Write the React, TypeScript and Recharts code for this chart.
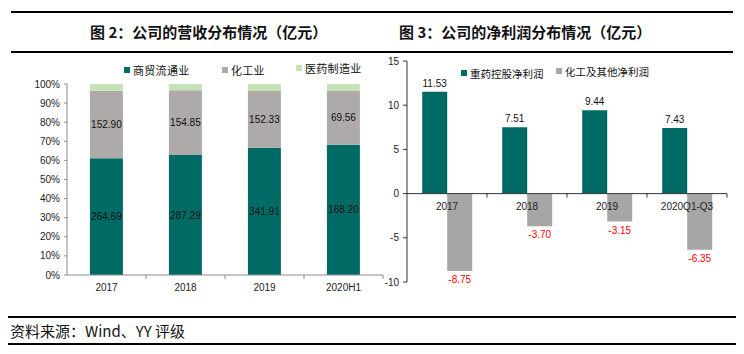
import React from "react";
import { BarChart, Bar, XAxis, YAxis, LabelList, ReferenceLine } from "recharts";

// 图2 营收分布（亿元）
const years = ["2017", "2018", "2019", "2020H1"];
const tradeRevenue = [264.69, 287.29, 341.91, 168.2];
const chemRevenue = [152.9, 154.85, 152.33, 69.56];
const pharmaRevenue = [15.5, 15.0, 19.0, 9.0];
const revenueNames = ["商贸流通业", "化工业", "医药制造业"];
const pctTicks = [0, 0.1, 0.2, 0.3, 0.4, 0.5, 0.6, 0.7, 0.8, 0.9, 1];

// 图3 净利润分布（亿元）
const periods = ["2017", "2018", "2019", "2020Q1-Q3"];
const holdingProfit = [11.53, 7.51, 9.44, 7.43];
const chemProfit = [-8.75, -3.7, -3.15, -6.35];
const profitNames = ["重药控股净利润", "化工及其他净利润"];
const profitTicks = [-10, -5, 0, 5, 10, 15];

const TEAL = "#006b64";
const WARM_GRAY = "#aeaaaa";
const LIGHT_GREEN = "#c6e3b6";
const GRAY = "#a6a6a6";
const NUM_FONT = "'Liberation Sans', Arial, sans-serif";
const CJK_FONT = "'Noto Sans CJK SC', sans-serif";

const revenueData = years.map((year, i) => ({
  year,
  trade: tradeRevenue[i],
  chem: chemRevenue[i],
  pharma: pharmaRevenue[i],
}));

const profitData = periods.map((period, i) => ({
  period,
  holding: holdingProfit[i],
  chem: chemProfit[i],
}));

// left chart geometry
const REV_W = 392;
const REV_H = 300;
const REV_MARGIN = { top: 84, right: 9, left: 7, bottom: 0 };
const REV_BAND = (REV_W - REV_MARGIN.left - REV_MARGIN.right - 60) / years.length;

// right chart geometry
const PROF_W = 400;
const PROF_H = 300;
const PROF_MARGIN = { top: 61, right: 13, left: 7, bottom: 0 };
const PROF_XAXIS_H = 18;
const PROF_PLOT_H = PROF_H - PROF_MARGIN.top - PROF_XAXIS_H;
const PROF_BAND = (PROF_W - PROF_MARGIN.left - PROF_MARGIN.right - 60) / periods.length;
const PROF_MIN = -10;
const PROF_MAX = 15;

const fmt2 = (v: any) => Number(v).toFixed(2);

const RevenueTick = (props: any) => {
  const { x, y, payload } = props;
  return (
    <g>
      <line x1={x + REV_BAND / 2} x2={x + REV_BAND / 2} y1={y} y2={y + 4} stroke="#8c8c8c" />
      <text x={x} y={y + 16} textAnchor="middle" fontSize={10} fontFamily={NUM_FONT} fill="#222">
        {payload.value}
      </text>
    </g>
  );
};

const ProfitTick = (props: any) => {
  const { x, y, payload } = props;
  // x axis labels sit on the zero line, not at the bottom of the plot
  const zeroY = y - (PROF_PLOT_H * (0 - PROF_MIN)) / (PROF_MAX - PROF_MIN);
  return (
    <g>
      <line x1={x + PROF_BAND / 2} x2={x + PROF_BAND / 2} y1={zeroY} y2={zeroY + 4} stroke="#333" />
      <text x={x} y={zeroY} dy={16} textAnchor="middle" fontSize={10} fontFamily={NUM_FONT} fill="#222">
        {payload.value}
      </text>
    </g>
  );
};

const LegendItem = ({ color, label, size }: { color: string; label: string; size: number }) => (
  <span style={{ display: "inline-flex", alignItems: "center" }}>
    <span style={{ width: 6, height: 6, background: color, display: "inline-block", marginRight: 3 }} />
    <span style={{ fontSize: size, letterSpacing: size > 10.6 ? 0.3 : 0 }}>{label}</span>
  </span>
);

const Rule = ({ top, left, width, h = 2 }: { top: number; left: number; width: number; h?: number }) => (
  <div style={{ position: "absolute", top, left, width, height: h, background: "#000" }} />
);

export default function App() {
  return (
    <div
      style={{
        position: "absolute",
        left: 0,
        top: 0,
        width: 744,
        height: 354,
        background: "#fff",
        fontFamily: CJK_FONT,
        color: "#111",
        overflow: "hidden",
      }}
    >
      <Rule top={11} left={11} width={722} />
      <Rule top={51} left={11} width={722} />
      <div style={{ position: "absolute", top: 21, left: 90, fontSize: 15, fontWeight: 700, lineHeight: "22px" }}>
        图 2：公司的营收分布情况（亿元）
      </div>
      <div style={{ position: "absolute", top: 21, left: 399, fontSize: 15, fontWeight: 700, lineHeight: "22px" }}>
        图 3：公司的净利润分布情况（亿元）
      </div>

      <BarChart
        width={REV_W}
        height={REV_H}
        data={revenueData}
        stackOffset="expand"
        margin={REV_MARGIN}
        barCategoryGap="29%"
        style={{ position: "absolute", left: 0, top: 0 }}
      >
        <XAxis
          dataKey="year"
          height={25}
          interval={0}
          axisLine={{ stroke: "#8c8c8c" }}
          tickLine={false}
          tickSize={0}
          tickMargin={0}
          tick={<RevenueTick />}
        />
        <YAxis
          width={60}
          domain={[0, 1]}
          ticks={pctTicks}
          interval={0}
          tickFormatter={(v: number) => `${Math.round(v * 100)}%`}
          axisLine={{ stroke: "#8c8c8c" }}
          tickLine={{ stroke: "#8c8c8c" }}
          tickSize={3}
          tickMargin={4}
          tick={{ fontSize: 10, fill: "#222", fontFamily: NUM_FONT }}
        />
        <Bar dataKey="trade" stackId="rev" fill={TEAL} isAnimationActive={false}>
          <LabelList dataKey="trade" position="center" formatter={fmt2} fontSize={10} fill="#111" fontFamily={NUM_FONT} />
        </Bar>
        <Bar dataKey="chem" stackId="rev" fill={WARM_GRAY} isAnimationActive={false}>
          <LabelList dataKey="chem" position="center" formatter={fmt2} fontSize={10} fill="#111" fontFamily={NUM_FONT} />
        </Bar>
        <Bar dataKey="pharma" stackId="rev" fill={LIGHT_GREEN} isAnimationActive={false} />
      </BarChart>

      <div style={{ position: "absolute", left: 124, top: 59, display: "flex", lineHeight: "15px" }}>
        <div style={{ width: 98 }}><LegendItem color={TEAL} label={revenueNames[0]} size={11} /></div>
        <div style={{ width: 74 }}><LegendItem color={WARM_GRAY} label={revenueNames[1]} size={11} /></div>
        <LegendItem color={LIGHT_GREEN} label={revenueNames[2]} size={11} />
      </div>

      <BarChart
        width={PROF_W}
        height={PROF_H}
        data={profitData}
        margin={PROF_MARGIN}
        barCategoryGap="19%"
        barGap={0}
        style={{ position: "absolute", left: 340, top: 0 }}
      >
        <XAxis
          dataKey="period"
          height={PROF_XAXIS_H}
          interval={0}
          axisLine={false}
          tickLine={false}
          tickSize={0}
          tickMargin={0}
          tick={<ProfitTick />}
        />
        <YAxis
          width={60}
          domain={[PROF_MIN, PROF_MAX]}
          ticks={profitTicks}
          interval={0}
          axisLine={{ stroke: "#333" }}
          tickLine={{ stroke: "#333" }}
          tickSize={4}
          tickMargin={4}
          tick={{ fontSize: 10, fill: "#222", fontFamily: NUM_FONT }}
        />
        <Bar dataKey="holding" fill={TEAL} isAnimationActive={false}>
          <LabelList dataKey="holding" position="top" offset={5} formatter={fmt2} fontSize={10} fill="#111" fontFamily={NUM_FONT} />
        </Bar>
        <Bar dataKey="chem" fill={GRAY} isAnimationActive={false}>
          <LabelList dataKey="chem" position="top" offset={5} formatter={fmt2} fontSize={10} fill="#ff0000" fontFamily={NUM_FONT} />
        </Bar>
        <ReferenceLine y={0} stroke="#333" />
      </BarChart>

      <div style={{ position: "absolute", left: 461, top: 62, display: "flex", lineHeight: "15px" }}>
        <div style={{ width: 95 }}><LegendItem color={TEAL} label={profitNames[0]} size={10.5} /></div>
        <LegendItem color={GRAY} label={profitNames[1]} size={10.5} />
      </div>

      <Rule top={316} left={8} width={728} h={1.5} />
      <div style={{ position: "absolute", left: 10, top: 321, fontSize: 15, lineHeight: "20px", color: "#111" }}>
        资料来源：Wind、YY 评级
      </div>
      <Rule top={343} left={8} width={728} h={1.5} />
    </div>
  );
}
